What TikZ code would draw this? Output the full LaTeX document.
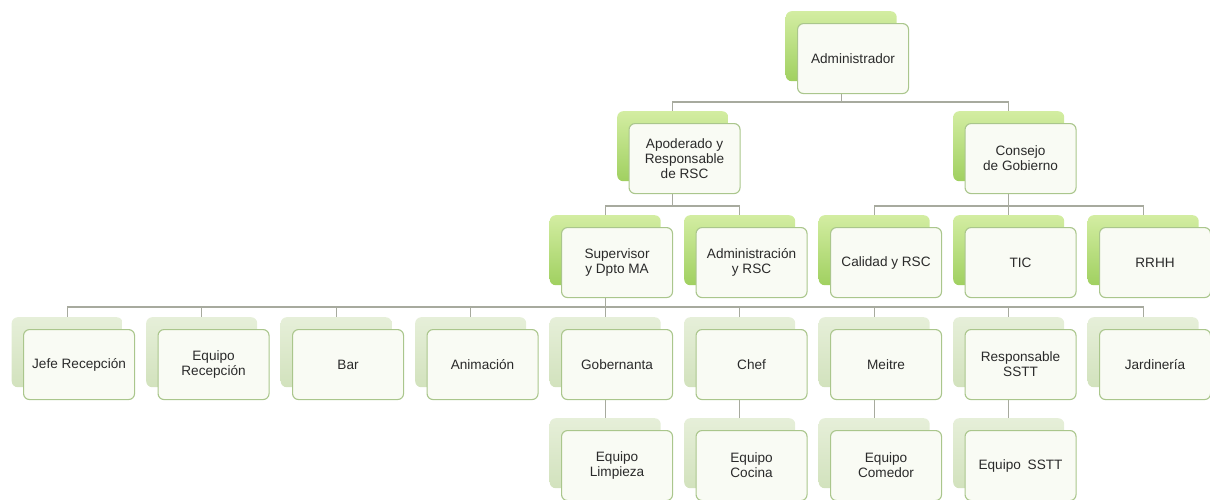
\documentclass[tikz,border=0pt]{standalone}
\usepackage{fontspec}
\setmainfont{Liberation Sans}
\usetikzlibrary{backgrounds}
\definecolor{gtop}{HTML}{D3EDA2}
\definecolor{gbot}{HTML}{A0D060}
\definecolor{ptop}{HTML}{E6EFD9}
\definecolor{pbot}{HTML}{D2E2BD}
\definecolor{frontfill}{HTML}{F9FBF4}
\definecolor{frontdraw}{HTML}{AAC68C}
\definecolor{conncol}{HTML}{A7AA9E}
\definecolor{txt}{HTML}{2A2A2A}
\tikzset{
  boxbase/.style={rounded corners=6pt, minimum width=111pt, minimum height=70pt, inner sep=0pt},
  backgreen/.style={boxbase, top color=gtop, bottom color=gbot, draw=none},
  backpale/.style={boxbase, top color=ptop, bottom color=pbot, draw=none},
  front/.style={boxbase, fill=frontfill, draw=frontdraw, line width=1.1pt,
    align=center, text=txt, font=\fontsize{13.6}{15}\selectfont},
  conn/.style={draw=conncol, line width=1.3pt}
}
\newcommand{\obox}[5]{%
  \node[#4, anchor=north west] (#1b) at (#2-11.5, #3-12) {};
  \node[front, anchor=north west] (#1) at (#2, #3) {#5};
}
\begin{document}
\begin{tikzpicture}[x=1pt, y=-1pt]
\useasboundingbox (0,0) rectangle (1210,499);
% level 1
\obox{adm}{797}{23}{backgreen}{Administrador}
% level 2
\obox{apo}{628.5}{123}{backgreen}{Apoderado y\\Responsable\\de RSC}
\obox{con}{964.5}{123}{backgreen}{Consejo\\de Gobierno}
% level 3
\obox{sup}{561}{227}{backgreen}{Supervisor\\y Dpto MA}
\obox{adr}{695.5}{227}{backgreen}{Administración\\y RSC}
\obox{cal}{830}{227}{backgreen}{Calidad y RSC}
\obox{tic}{964.5}{227}{backgreen}{TIC}
\obox{rrh}{1099}{227}{backgreen}{RRHH}
% level 4
\obox{jef}{23}{329}{backpale}{Jefe Recepción}
\obox{eqr}{157.5}{329}{backpale}{Equipo\\Recepción}
\obox{bar}{292}{329}{backpale}{Bar}
\obox{ani}{426.5}{329}{backpale}{Animación}
\obox{gob}{561}{329}{backpale}{Gobernanta}
\obox{che}{695.5}{329}{backpale}{Chef}
\obox{mei}{830}{329}{backpale}{Meitre}
\obox{rss}{964.5}{329}{backpale}{Responsable\\SSTT}
\obox{jar}{1099}{329}{backpale}{Jardinería}
% level 5
\obox{lim}{561}{430}{backpale}{Equipo\\Limpieza}
\obox{coc}{695.5}{430}{backpale}{Equipo\\Cocina}
\obox{com}{830}{430}{backpale}{Equipo\\Comedor}
\obox{est}{964.5}{430}{backpale}{Equipo\enspace SSTT}
% connectors
\begin{scope}[on background layer]
\foreach \c in {apo,con}
  \draw[conn] (admb.south |- adm.south) -- ++(0,8) -| (\c b.north);
\foreach \c in {sup,adr}
  \draw[conn] (apob.south |- apo.south) -- ++(0,12) -| (\c b.north);
\foreach \c in {cal,tic,rrh}
  \draw[conn] (conb.south |- con.south) -- ++(0,12) -| (\c b.north);
\foreach \c in {jef,eqr,bar,ani,gob,che,mei,rss,jar}
  \draw[conn] (supb.south |- sup.south) -- ++(0,9) -| (\c b.north);
\draw[conn] (gobb.south |- gob.south) -- (limb.north);
\draw[conn] (cheb.south |- che.south) -- (cocb.north);
\draw[conn] (meib.south |- mei.south) -- (comb.north);
\draw[conn] (rssb.south |- rss.south) -- (estb.north);
\end{scope}
\end{tikzpicture}
\end{document}
